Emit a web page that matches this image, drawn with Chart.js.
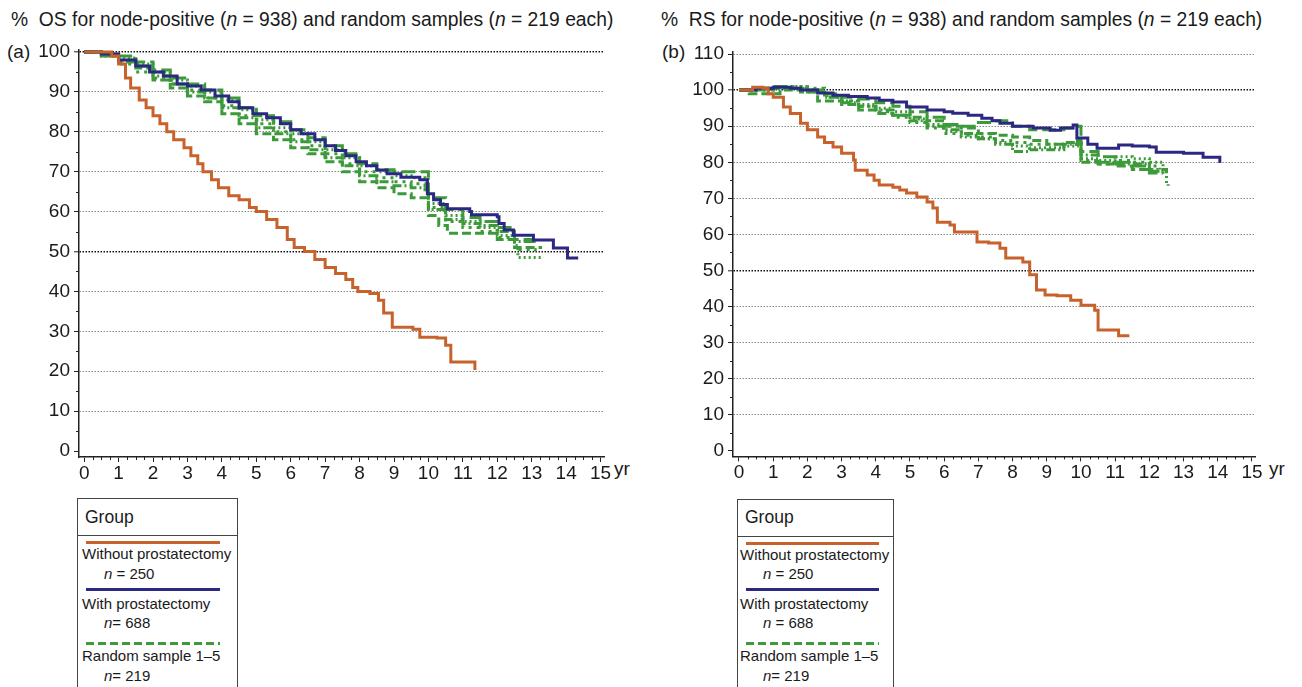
<!DOCTYPE html>
<html>
<head>
<meta charset="utf-8">
<script src="https://cdn.jsdelivr.net/npm/chart.js@4.4.1/dist/chart.umd.min.js"></script>
<style>
  html, body { margin:0; padding:0; background:#fff; }
  body { width:1302px; height:687px; position:relative; overflow:hidden;
         font-family:"Liberation Sans", Arial, Helvetica, sans-serif; color:#1a1a1a; }
  .abs { position:absolute; white-space:nowrap; }
  .title { font-size:19.3px; line-height:22px; }
  .plab { font-size:19px; line-height:22px; }
  .yr { font-size:19px; line-height:22px; }
  canvas { position:absolute; }
  .legend { position:absolute; border:1px solid #444; height:220px; background:#fff; }
  .legend .sep { position:absolute; left:0; right:0; height:0; border-top:1px solid #444; }
  .legend .t { position:absolute; font-size:15px; line-height:18px; white-space:nowrap; }
  .legend .ln { position:absolute; height:3px; }
</style>
</head>
<body>
<script>
// ---------------- DATA ----------------
// Panel (a) overall survival, time in years, value in %
const osWithoutT = [0,0.6,0.8,1.0,1.2,1.35,1.6,1.8,2.0,2.2,2.4,2.6,2.9,3.1,3.3,3.45,3.7,3.9,4.2,4.5,4.8,5.0,5.3,5.6,5.9,6.1,6.4,6.7,7.0,7.3,7.6,7.8,7.95,8.3,8.55,8.7,8.95,9.55,9.75,10.25,10.5,10.65,11.35];
const osWithoutV = [100,100,99,97,93.5,91,88,86,84,82,80,78,76,74,72,70,68,66,64,63,61,60,58,56,53,51,50,48,46,44.5,43,41,40,39.5,37.8,34.6,31,30.5,28.5,28.3,26.5,22.3,20.3];

const osWithT = [0,0.5,1.0,1.5,1.9,2.3,2.7,3.0,3.4,3.8,4.2,4.5,4.9,5.3,5.7,6.0,6.3,6.7,7.0,7.3,7.6,7.9,8.2,8.5,8.8,9.2,9.75,9.97,10.15,10.35,10.55,11.2,11.25,12.0,12.05,12.2,12.47,13.05,13.63,14.04,14.35];
const osWithV = [100,99.5,98,96.5,95,94,92,91.5,90.5,89,87.5,86,84.5,83.5,82,80.5,79.5,78,76.5,75.3,74,72.5,71.5,70.4,69.5,68.6,68,64.5,63,61.8,60.7,60,59.2,58.7,57,55.4,54.1,52.9,50.9,48.4,48.4];

const osRand1T = [0,0.5,1.0,1.5,2.0,2.5,3.0,3.5,4.0,4.5,5.0,5.5,6.0,6.5,7.0,7.5,8.0,8.5,9.0,9.5,9.9,10.0,10.3,10.55,11.9,12.0,12.5,13.3];
const osRand1V = [100,99,97.5,96,93,91,89,87.5,84.5,82,79.5,78,76,74.5,72.5,70,67.5,66,64.5,63.5,63.5,59,56.5,54.6,54.6,53,51,51];
const osRand2T = [0,0.5,1.0,1.5,2.0,2.5,3.0,3.5,4.0,4.5,5.0,5.5,6.0,6.5,7.0,7.5,8.0,8.5,9.0,9.5,9.9,10.0,10.5,11.0,11.5,12.0,12.5,12.6,13.35];
const osRand2V = [100,99.5,98.5,97,95,93,91.5,90,88,85.5,83,81,79.5,77.5,75.5,73.5,71.5,70,69,68.5,68,62,59,57.5,56,54,51.5,48.5,48.5];
const osRand3T = [0,0.5,1.0,1.5,2.0,2.5,3.0,3.5,4.0,4.5,5.0,5.5,6.0,6.5,7.0,7.5,8.0,8.5,9.0,9.5,9.9,10.0,10.5,11.0,11.5,12.0,12.5,13.0];
const osRand3V = [100,99,98,96.5,94,92,90,88.5,86,83.5,81,79.5,77.5,75.5,73.5,71.5,69,67.5,66.5,66,65.5,60.5,58,57,56.5,55,52.5,51.5];
const osRand4T = [0,0.5,1.0,1.5,2.0,2.5,3.0,3.5,4.0,4.5,5.0,5.5,6.0,6.5,7.0,7.5,8.0,8.5,9.0,9.5,9.9,10.0,10.5,11.0,11.5,12.0,12.5,13.0,13.2];
const osRand4V = [100,99.5,99,97.5,95.5,93.5,92,90.5,88.5,86,84,82.5,80.5,78.5,76.5,74.5,72,70.5,70,70,70,63.5,60.5,58.5,57.5,56,53,52.5,52.5];
const osRand5T = [0,0.5,1.0,1.5,2.0,2.5,3.0,3.5,4.0,4.5,5.0,5.5,6.0,6.5,7.0,7.5,8.0,8.5,9.0,9.5,9.9,10.0,10.5,11.0,11.5,12.0,12.5,13.1];
const osRand5V = [100,99,97,95,93.5,92,90.5,88.5,86.5,84,82,80,78,76.5,74.5,72,70,68.5,67.5,67,66.5,61,57.5,56,55,53.5,50.5,50];

// Panel (b) relative survival
const rsWithoutT = [0,0.4,0.7,0.85,1.0,1.3,1.5,1.8,2.0,2.3,2.5,2.75,3.0,3.35,3.4,3.75,3.95,4.1,4.5,4.7,4.9,5.2,5.5,5.67,5.8,6.17,6.3,6.75,6.96,7.3,7.63,7.8,8.3,8.5,8.7,8.95,9.3,9.7,10.0,10.4,10.5,11.1,11.37];
const rsWithoutV = [100,100.8,100.5,99,98,95.3,93.5,90.8,89,87,85.5,84.2,82.5,80.6,77.8,76.5,75,73.7,73.1,72.3,71.5,70.4,69,67.3,63.4,62.6,60.7,60.7,57.9,57.6,56.2,53.5,52.4,48.8,44.6,43.2,43,41.8,40.4,39,33.5,31.9,31.5];

const rsWithT = [0,0.5,1.0,1.5,1.8,2.3,2.75,3.2,3.75,4.1,4.5,4.9,5.5,6.0,6.25,6.7,7.1,7.4,7.63,8.0,8.6,9.1,9.4,9.77,9.88,10.2,10.47,11.1,11.5,12.0,12.2,13.0,13.57,14.06];
const rsWithV = [100,100.5,100.8,100.5,100,99.2,98.6,98.2,97.8,97.2,96.7,95.3,94.5,94,93.6,93,92.2,91.5,90.8,90,89.5,88.9,89.5,90.3,86.7,85,83.9,84.8,84.5,84.2,82.8,82.5,81.4,79.8];

const rsRand1T = [0,0.3,0.8,1.2,1.8,2.3,3.0,3.5,4.0,4.5,5.0,5.5,6.0,6.5,7.0,7.5,8.0,8.5,9.0,9.5,9.9,10.0,10.5,11.0,11.5,12.0,12.4];
const rsRand1V = [100,99,99,100,99.5,97,96,94.5,93.5,93,92.5,91.5,90,89.5,88,87.5,87,86,85,85.5,86,80,79.5,79,78,77,76.8];
const rsRand2T = [0,0.5,1.0,1.5,2.0,2.5,3.0,3.5,4.0,4.5,5.0,5.5,6.0,6.5,7.0,7.5,8.0,8.5,9.0,9.5,9.9,10.0,10.5,11.0,11.5,12.0,12.4,12.5,12.55];
const rsRand2V = [100,100.5,101,101,100,98.5,97,96,95,94,92,90.5,88.5,87,86.5,85.5,84.5,84,84,84.5,85,81,80.5,81.5,81,80,77.5,74,73.5];
const rsRand3T = [0,0.5,1.0,1.5,2.0,2.5,3.0,3.5,4.0,4.5,5.0,5.5,6.0,6.5,7.0,7.5,8.0,8.5,9.0,9.5,9.9,10.0,10.5,11.0,11.5,12.0,12.5];
const rsRand3V = [100,100,100.5,100.5,99.5,98,96.5,95.5,94.5,93,91.5,90,89,88,86.5,85,83,83.5,83.5,85,86,82,80,79.5,79.5,78,76.5];
const rsRand4T = [0,0.5,1.0,1.5,2.0,2.5,3.0,3.5,4.0,4.5,5.0,5.5,6.0,6.5,7.0,7.5,8.0,8.5,9.0,9.5,9.9,10.0,10.5,11.0,11.5,12.0,12.4];
const rsRand4V = [100,100.5,101,100.5,100,99,98,97.5,96.5,95.5,94,92.5,90.5,90,91,91.5,90,89,89,89.5,90,83,81.5,80,79,77.5,77.5];
const rsRand5T = [0,0.5,1.0,1.5,2.0,2.5,3.0,3.5,4.0,4.5,5.0,5.5,6.0,6.5,7.0,7.5,8.0,8.5,9.0,9.5,9.9,10.0,10.5,11.0,11.5,12.0,12.3];
const rsRand5V = [100,100,100.5,101,100.5,98,97,95.5,94,92.5,91,89.5,88,87.5,87,86,85.5,85,85,85.5,86,80.5,79.5,80.5,80,79,78];

// Tick labels
const xTickYears = [0,1,2,3,4,5,6,7,8,9,10,11,12,13,14,15];
const yTicksA = [0,10,20,30,40,50,60,70,80,90,100];
const yTicksB = [0,10,20,30,40,50,60,70,80,90,100,110];

// ---------------- STYLE ----------------
const ORANGE = '#c8622c';
const BLUE = '#2a2882';
const GREEN = '#3c9a3a';
const greenDashes = [[9,4],[2,3],[9,3,2,3],[14,5],[3,5]];
const FONT = '"Liberation Sans", Arial, sans-serif';

function pts(t, v) { return t.map((x, i) => ({ x: x, y: v[i] })); }

const minorTicks = {
  id: 'minorTicks',
  afterDraw(chart, args, o) {
    const ctx = chart.ctx, xs = chart.scales.x, ys = chart.scales.y;
    ctx.save();
    ctx.strokeStyle = '#222';
    ctx.lineWidth = 1;
    for (let k = 0; k <= 60; k++) {
      if (k % 4 === 0) continue;
      const px = Math.round(xs.getPixelForValue(k / 4)) + 0.5;
      ctx.beginPath(); ctx.moveTo(px, xs.top); ctx.lineTo(px, xs.top + 3); ctx.stroke();
    }
    for (let v = 5; v < o.ymax; v += 10) {
      const py = Math.round(ys.getPixelForValue(v)) + 0.5;
      ctx.beginPath(); ctx.moveTo(ys.right - 3, py); ctx.lineTo(ys.right, py); ctx.stroke();
    }
    ctx.restore();
  }
};

function makeChart(id, left, width, height, padTop, padRight, yWidth, xHeight, xMin, xMax, yMin, yMax, yTicks, series) {
  const cv = document.createElement('canvas');
  cv.id = id;
  cv.width = width; cv.height = height;
  cv.style.left = left + 'px'; cv.style.top = '0px';
  cv.style.width = width + 'px'; cv.style.height = height + 'px';
  document.body.appendChild(cv);
  const ds = series.map(s => ({
    data: pts(s.t, s.v),
    borderColor: s.color,
    borderWidth: s.width || 3,
    borderDash: s.dash || [],
    pointRadius: 0,
    stepped: true,
    fill: false,
    tension: 0,
    order: s.order
  }));
  const yMaxTick = yTicks[yTicks.length - 1];
  return new Chart(cv, {
    type: 'line',
    data: { datasets: ds },
    options: {
      responsive: false,
      animation: false,
      devicePixelRatio: 1,
      layout: { padding: { left: 0, top: padTop, right: padRight, bottom: 0 } },
      plugins: { legend: { display: false }, tooltip: { enabled: false }, minorTicks: { ymax: yMaxTick } },
      scales: {
        x: {
          type: 'linear', min: xMin, max: xMax,
          afterFit: s => { s.height = xHeight; },
          afterBuildTicks: s => { s.ticks = xTickYears.map(v => ({ value: v })); },
          ticks: { stepSize: 1, includeBounds: false, color: '#1a1a1a', padding: 0,
                   font: { family: FONT, size: 19 }, maxRotation: 0, autoSkip: false },
          grid: { drawOnChartArea: false, drawTicks: true, tickLength: 5, tickColor: '#222', tickWidth: 1 },
          border: { color: '#222', width: 1.5 }
        },
        y: {
          type: 'linear', min: yMin, max: yMax,
          afterFit: s => { s.width = yWidth; },
          afterBuildTicks: s => { s.ticks = yTicks.map(v => ({ value: v })); },
          ticks: { stepSize: 10, includeBounds: false, color: '#1a1a1a', padding: 4,
                   font: { family: FONT, size: 19 }, autoSkip: false },
          grid: {
            drawOnChartArea: true, drawTicks: true, tickLength: 5, tickColor: '#222', tickWidth: 1,
            color: c => (c.tick && c.tick.value === 0) ? 'rgba(0,0,0,0)' :
                        (c.tick && (c.tick.value === 100 || c.tick.value === 50)) ? '#111' : '#888',
            lineWidth: c => (c.tick && (c.tick.value === 100 || c.tick.value === 50)) ? 1.6 : 1
          },
          border: { color: '#222', width: 1.5, dash: [1.5, 1.5] }
        }
      }
    },
    plugins: [minorTicks]
  });
}

window.addEventListener('DOMContentLoaded', () => {
  // Panel (a)
  makeChart('ca', 0, 651, 487, 50, 47, 79, 30, -0.15, 15.1, -1.5, 100.5, yTicksA, [
    { t: osRand1T, v: osRand1V, color: GREEN, dash: greenDashes[0], order: 3 },
    { t: osRand2T, v: osRand2V, color: GREEN, dash: greenDashes[1], order: 3 },
    { t: osRand3T, v: osRand3V, color: GREEN, dash: greenDashes[2], order: 3 },
    { t: osRand4T, v: osRand4V, color: GREEN, dash: greenDashes[3], order: 3 },
    { t: osRand5T, v: osRand5V, color: GREEN, dash: greenDashes[4], order: 3 },
    { t: osWithT, v: osWithV, color: BLUE, order: 2 },
    { t: osWithoutT, v: osWithoutV, color: ORANGE, order: 1 }
  ]);
  // Panel (b)
  makeChart('cb', 651, 651, 487, 52.2, 46.6, 82, 30.6, -0.175, 15.1, -1.5, 110.5, yTicksB, [
    { t: rsRand1T, v: rsRand1V, color: GREEN, dash: greenDashes[0], order: 3 },
    { t: rsRand2T, v: rsRand2V, color: GREEN, dash: greenDashes[1], order: 3 },
    { t: rsRand3T, v: rsRand3V, color: GREEN, dash: greenDashes[2], order: 3 },
    { t: rsRand4T, v: rsRand4V, color: GREEN, dash: greenDashes[3], order: 3 },
    { t: rsRand5T, v: rsRand5V, color: GREEN, dash: greenDashes[4], order: 3 },
    { t: rsWithT, v: rsWithV, color: BLUE, order: 2 },
    { t: rsWithoutT, v: rsWithoutV, color: ORANGE, order: 1 }
  ]);
});
</script>

<div class="abs title" style="left:11px;top:9px;">%&nbsp;&nbsp;OS for node-positive (<i>n</i> = 938) and random samples (<i>n</i> = 219 each)</div>
<div class="abs title" style="left:661px;top:9px;">%&nbsp;&nbsp;RS for node-positive (<i>n</i> = 938) and random samples (<i>n</i> = 219 each)</div>
<div class="abs plab" style="left:7px;top:41px;">(a)</div>
<div class="abs plab" style="left:662px;top:41px;">(b)</div>
<div class="abs yr" style="left:614px;top:458px;">yr</div>
<div class="abs yr" style="left:1269px;top:458px;">yr</div>

<div class="legend" style="left:77px;top:498px;width:159px;">
  <div class="t" style="left:7px;top:8px;font-size:17.5px;line-height:20px;">Group</div>
  <div class="sep" style="top:36px;"></div>
  <div class="ln" style="left:8px;top:42px;width:134px;background:#c8622c;"></div>
  <div class="t" style="left:4px;top:46px;">Without prostatectomy</div>
  <div class="t" style="left:26px;top:66px;"><i>n</i> = 250</div>
  <div class="ln" style="left:8px;top:89px;width:134px;background:#2a2882;"></div>
  <div class="t" style="left:4px;top:96px;">With prostatectomy</div>
  <div class="t" style="left:26px;top:115px;"><i>n</i>= 688</div>
  <div class="ln" style="left:8px;top:143px;width:134px;background:repeating-linear-gradient(to right,#3c9a3a 0 8px,transparent 8px 12px);"></div>
  <div class="t" style="left:4px;top:148px;">Random sample 1–5</div>
  <div class="t" style="left:26px;top:168px;"><i>n</i>= 219</div>
</div>

<div class="legend" style="left:737px;top:499px;width:155px;">
  <div class="t" style="left:7px;top:7px;font-size:17.5px;line-height:20px;">Group</div>
  <div class="sep" style="top:36px;"></div>
  <div class="ln" style="left:8px;top:42px;width:133px;background:#c8622c;"></div>
  <div class="t" style="left:2px;top:46px;">Without prostatectomy</div>
  <div class="t" style="left:25px;top:65px;"><i>n</i> = 250</div>
  <div class="ln" style="left:8px;top:88px;width:133px;background:#2a2882;"></div>
  <div class="t" style="left:2px;top:95px;">With prostatectomy</div>
  <div class="t" style="left:25px;top:114px;"><i>n</i> = 688</div>
  <div class="ln" style="left:8px;top:142px;width:133px;background:repeating-linear-gradient(to right,#3c9a3a 0 8px,transparent 8px 12px);"></div>
  <div class="t" style="left:2px;top:147px;">Random sample 1–5</div>
  <div class="t" style="left:25px;top:167px;"><i>n</i>= 219</div>
</div>
</body>
</html>
